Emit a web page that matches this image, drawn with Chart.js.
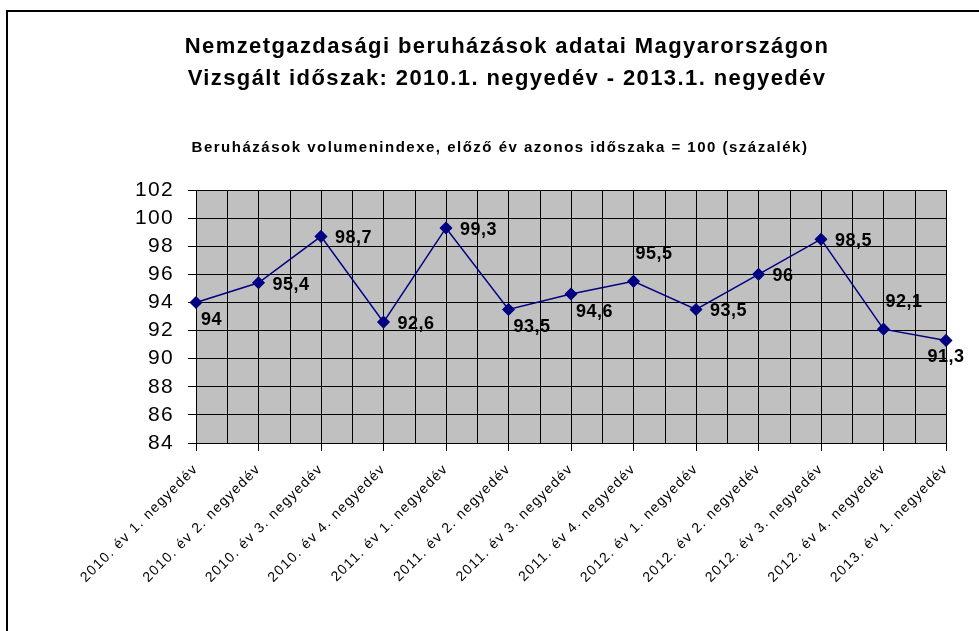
<!DOCTYPE html>
<html>
<head>
<meta charset="utf-8">
<script src="https://cdn.jsdelivr.net/npm/chart.js@4"></script>
<style>
  body { margin: 0; background: #fff; }
  #wrap { position: relative; width: 979px; height: 631px; overflow: hidden; }
  #frame { position: absolute; left: 6px; top: 10px; width: 1000px; height: 700px; border: 2px solid #000; pointer-events: none; }
</style>
</head>
<body>
<div id="wrap">
  <canvas id="chart" width="979" height="631"></canvas>
  <div id="frame"></div>
</div>
<script>
const quarters = [
  '2010. év 1. negyedév', '2010. év 2. negyedév', '2010. év 3. negyedév', '2010. év 4. negyedév',
  '2011. év 1. negyedév', '2011. év 2. negyedév', '2011. év 3. negyedév', '2011. év 4. negyedév',
  '2012. év 1. negyedév', '2012. év 2. negyedév', '2012. év 3. negyedév', '2012. év 4. negyedév',
  '2013. év 1. negyedév'
];
const volumeIndex = [94, 95.4, 98.7, 92.6, 99.3, 93.5, 94.6, 95.5, 93.5, 96, 98.5, 92.1, 91.3];
// where each value label sits relative to its point
const labelPlacement = ['below', 'right', 'right', 'right', 'right', 'below', 'below',
  'above', 'right', 'right', 'right', 'above', 'under'];

const titleLines = [
  'Nemzetgazdasági beruházások adatai Magyarországon',
  'Vizsgált időszak: 2010.1. negyedév - 2013.1. negyedév'
];
const subtitleText = 'Beruházások volumenindexe, előző év azonos időszaka = 100 (százalék)';

const FONT = '"Liberation Sans", Arial, sans-serif';

// titles are drawn by hand so they can sit off-centre like the original
const titles = {
  id: 'titles',
  beforeDraw(chart) {
    const ctx = chart.ctx;
    ctx.save();
    ctx.fillStyle = '#000';
    ctx.textAlign = 'center';
    ctx.textBaseline = 'middle';
    ctx.letterSpacing = '1.4px';
    ctx.font = 'bold 22px ' + FONT;
    ctx.fillText(titleLines[0], 507, 47);
    ctx.fillText(titleLines[1], 507, 79);
    ctx.letterSpacing = '1.5px';
    ctx.font = 'bold 15px ' + FONT;
    ctx.fillText(subtitleText, 500, 148);
    ctx.restore();
    // wider spacing for the axis texts, like the Excel original
    ctx.letterSpacing = '1.3px';
  }
};

// gray plot area + extra vertical lines between the categories
const plotBg = {
  id: 'plotBg',
  beforeDraw(chart) {
    const { ctx, chartArea: a } = chart;
    ctx.save();
    ctx.fillStyle = '#c0c0c0';
    ctx.fillRect(a.left, a.top, a.right - a.left, a.bottom - a.top);
    ctx.restore();
  },
  beforeDatasetsDraw(chart) {
    const { ctx, chartArea: a, scales } = chart;
    ctx.save();
    ctx.strokeStyle = '#000';
    ctx.lineWidth = 1;
    for (let i = 0; i < quarters.length - 1; i++) {
      const x = Math.round(scales.x.getPixelForValue(i + 0.5)) + 0.5;
      ctx.beginPath();
      ctx.moveTo(x, a.top);
      ctx.lineTo(x, a.bottom);
      ctx.stroke();
    }
    ctx.restore();
  }
};

const valueLabels = {
  id: 'valueLabels',
  afterDatasetsDraw(chart) {
    const ctx = chart.ctx;
    const pts = chart.getDatasetMeta(0).data;
    ctx.save();
    ctx.letterSpacing = '0.5px';
    ctx.font = 'bold 18px ' + FONT;
    ctx.fillStyle = '#000';
    ctx.textBaseline = 'middle';
    pts.forEach((p, i) => {
      const txt = String(volumeIndex[i]).replace('.', ',');
      const where = labelPlacement[i];
      let x = p.x, y = p.y;
      ctx.textAlign = 'left';
      if (where === 'right') { x += 14; y += 2; }
      else if (where === 'below') { x += 5; y += 18; }
      else if (where === 'above') { x += 2; y -= 27; }
      else { ctx.textAlign = 'center'; y += 17; }
      ctx.fillText(txt, x, y);
    });
    ctx.restore();
  }
};

new Chart(document.getElementById('chart'), {
  type: 'line',
  data: {
    labels: quarters,
    datasets: [{
      data: volumeIndex,
      borderColor: '#000080',
      backgroundColor: '#000080',
      borderWidth: 1.5,
      pointStyle: 'rectRot',
      pointRadius: 5.5,
      pointHoverRadius: 5.5,
      tension: 0
    }]
  },
  options: {
    responsive: false,
    animation: false,
    layout: { padding: { left: 10, right: 33, top: 190, bottom: 0 } },
    plugins: {
      legend: { display: false },
      tooltip: { enabled: false },
      title: { display: false }
    },
    scales: {
      x: {
        offset: false,
        grid: { color: '#000', lineWidth: 1, tickLength: 8 },
        border: { color: '#000', width: 1 },
        ticks: {
          color: '#000',
          font: { family: FONT, size: 14 },
          autoSkip: false,
          minRotation: 45,
          maxRotation: 45,
          padding: 10
        },
        afterFit(scale) { scale.height = 188; }
      },
      y: {
        min: 84,
        max: 102,
        grid: { color: '#000', lineWidth: 1, tickLength: 8 },
        border: { color: '#000', width: 1 },
        ticks: {
          stepSize: 2,
          autoSkip: false,
          color: '#000',
          font: { family: FONT, size: 21 },
          padding: 14
        },
        afterFit(scale) { scale.width = 186; }
      }
    }
  },
  plugins: [titles, plotBg, valueLabels]
});
</script>
</body>
</html>
